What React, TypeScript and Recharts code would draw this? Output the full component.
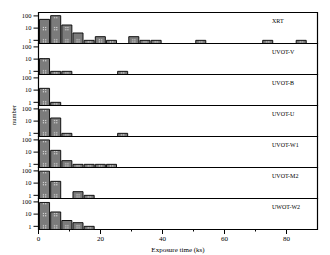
import React from "react";
import { BarChart, Bar, XAxis, YAxis, ReferenceArea } from "recharts";

const binCenters = [1.8, 5.4, 9, 12.6, 16.2, 19.8, 23.4, 27, 30.6, 34.2, 37.8, 41.4, 45, 48.6, 52.2, 55.8, 59.4, 63, 66.6, 70.2, 73.8, 77.4, 81, 84.6, 88.2];
const panelNames = ["XRT", "UVOT-V", "UVOT-B", "UVOT-U", "UVOT-W1", "UVOT-M2", "UWOT-W2"];
const xrt = [52, 105, 18, 4, 1, 2, 1, 0, 2, 1, 1, 0, 0, 0, 1, 0, 0, 0, 0, 0, 1, 0, 0, 1, 0];
const uvotV = [11, 1, 1, 0, 0, 0, 0, 1, 0, 0, 0, 0, 0, 0, 0, 0, 0, 0, 0, 0, 0, 0, 0, 0, 0];
const uvotB = [14, 1, 0, 0, 0, 0, 0, 0, 0, 0, 0, 0, 0, 0, 0, 0, 0, 0, 0, 0, 0, 0, 0, 0, 0];
const uvotU = [95, 18, 1, 0, 0, 0, 0, 1, 0, 0, 0, 0, 0, 0, 0, 0, 0, 0, 0, 0, 0, 0, 0, 0, 0];
const uvotW1 = [100, 14, 2, 1, 1, 1, 1, 0, 0, 0, 0, 0, 0, 0, 0, 0, 0, 0, 0, 0, 0, 0, 0, 0, 0];
const uvotM2 = [95, 14, 0, 2, 1, 0, 0, 0, 0, 0, 0, 0, 0, 0, 0, 0, 0, 0, 0, 0, 0, 0, 0, 0, 0];
const uvotW2 = [90, 15, 3, 2, 1, 0, 0, 0, 0, 0, 0, 0, 0, 0, 0, 0, 0, 0, 0, 0, 0, 0, 0, 0, 0];
const seriesList = [xrt, uvotV, uvotB, uvotU, uvotW1, uvotM2, uvotW2];
const yTicks = [1, 10, 100];
const xTicks = [0, 10, 20, 30, 40, 50, 60, 70, 80];
const xTitle = "Exposure time (ks)";
const yTitle = "number";

const FONT = "'Liberation Serif', 'DejaVu Serif', serif";
const PANEL_TOP = 12;
const PANEL_H = 31;
const TOP_PAD = 0.5;
const LEFT = 38.5;
const RIGHT_M = 12.5;
const W = 330;
const BAR_W = (3.6 * (W - RIGHT_M - LEFT)) / 90;
const Y_DOMAIN: [number, number] = [0.55, 190];

const YTick = (props: any) => {
  const { x, y, payload } = props;
  return (
    <text x={x} y={y + 2.2} textAnchor="end" fontSize={6.5} fontFamily={FONT} fill="#000">
      {payload.value}
    </text>
  );
};

const XTick = (props: any) => {
  const { x, y, payload } = props;
  const major = payload.value % 20 === 0;
  return (
    <g>
      <line x1={x} x2={x} y1={y} y2={y + (major ? 4.5 : 2)} stroke="#000" strokeWidth={1} />
      {major && (
        <text x={x} y={y + 11.5} textAnchor="middle" fontSize={7} fontFamily={FONT} fill="#000">
          {payload.value}
        </text>
      )}
    </g>
  );
};

function Panel({ idx }: { idx: number }) {
  const values = seriesList[idx];
  const data = binCenters.map((c, i) => ({ x: c, v: values[i] > 0 ? values[i] : null }));
  const last = idx === seriesList.length - 1;
  const h = TOP_PAD + PANEL_H + (last ? 26 : 1);
  const pid = `pat${idx}`;
  return (
    <div style={{ position: "absolute", left: 0, top: PANEL_TOP + PANEL_H * idx }}>
      <BarChart
        width={W}
        height={h}
        data={data}
        margin={{ top: TOP_PAD, right: RIGHT_M, bottom: last ? 0 : 1, left: 0 }}
      >
        <defs>
          <pattern id={pid} patternUnits="userSpaceOnUse" x={LEFT} y={-1.7} width={BAR_W} height={12.21}>
            <rect x={0} y={0} width={BAR_W} height={12.21} fill="#7b7b7b" />
            <rect x={4.5} y={4.6} width={1} height={1} fill="#fff" />
            <rect x={6.7} y={4.6} width={1} height={1} fill="#fff" />
            <rect x={4.5} y={6.8} width={1} height={1} fill="#fff" />
            <rect x={6.7} y={6.8} width={1} height={1} fill="#fff" />
          </pattern>
        </defs>
        <XAxis
          type="number"
          dataKey="x"
          domain={[0, 90]}
          ticks={last ? xTicks : []}
          interval={0}
          height={last ? 26 : 0}
          tick={last ? <XTick /> : false}
          tickLine={false}
          tickSize={0}
          tickMargin={0}
          axisLine={false}
          allowDataOverflow
        />
        <YAxis
          scale="log"
          type="number"
          domain={Y_DOMAIN}
          ticks={yTicks}
          interval={0}
          allowDataOverflow
          width={LEFT}
          tick={<YTick />}
          tickSize={5}
          tickMargin={2}
          tickLine={{ stroke: "#000", strokeWidth: 1 }}
          axisLine={false}
        />
        <Bar
          dataKey="v"
          fill={`url(#${pid})`}
          stroke="#000"
          strokeWidth={0.9}
          barSize={BAR_W}
          isAnimationActive={false}
        />
        <ReferenceArea
          x1={0}
          x2={90}
          y1={Y_DOMAIN[0]}
          y2={Y_DOMAIN[1]}
          fill="none"
          fillOpacity={0}
          stroke="#000"
          strokeWidth={1.2}
          ifOverflow="visible"
        />
        <text x={272} y={10.5} fontSize={6} fontFamily={FONT} fill="#000">
          {panelNames[idx]}
        </text>
        {idx === 3 && (
          <text
            x={16}
            y={10}
            transform={`rotate(-90 16 10)`}
            textAnchor="middle"
            fontSize={6.5}
            fontFamily={FONT}
            fill="#000"
          >
            {yTitle}
          </text>
        )}
        {last && (
          <text x={178} y={TOP_PAD + PANEL_H + 22} textAnchor="middle" fontSize={7} fontFamily={FONT} fill="#000">
            {xTitle}
          </text>
        )}
      </BarChart>
    </div>
  );
}

export default function App() {
  return (
    <div style={{ position: "absolute", left: 0, top: 0, width: W, height: 255, background: "#fff" }}>
      {seriesList.map((_, i) => (
        <Panel key={i} idx={i} />
      ))}
    </div>
  );
}
